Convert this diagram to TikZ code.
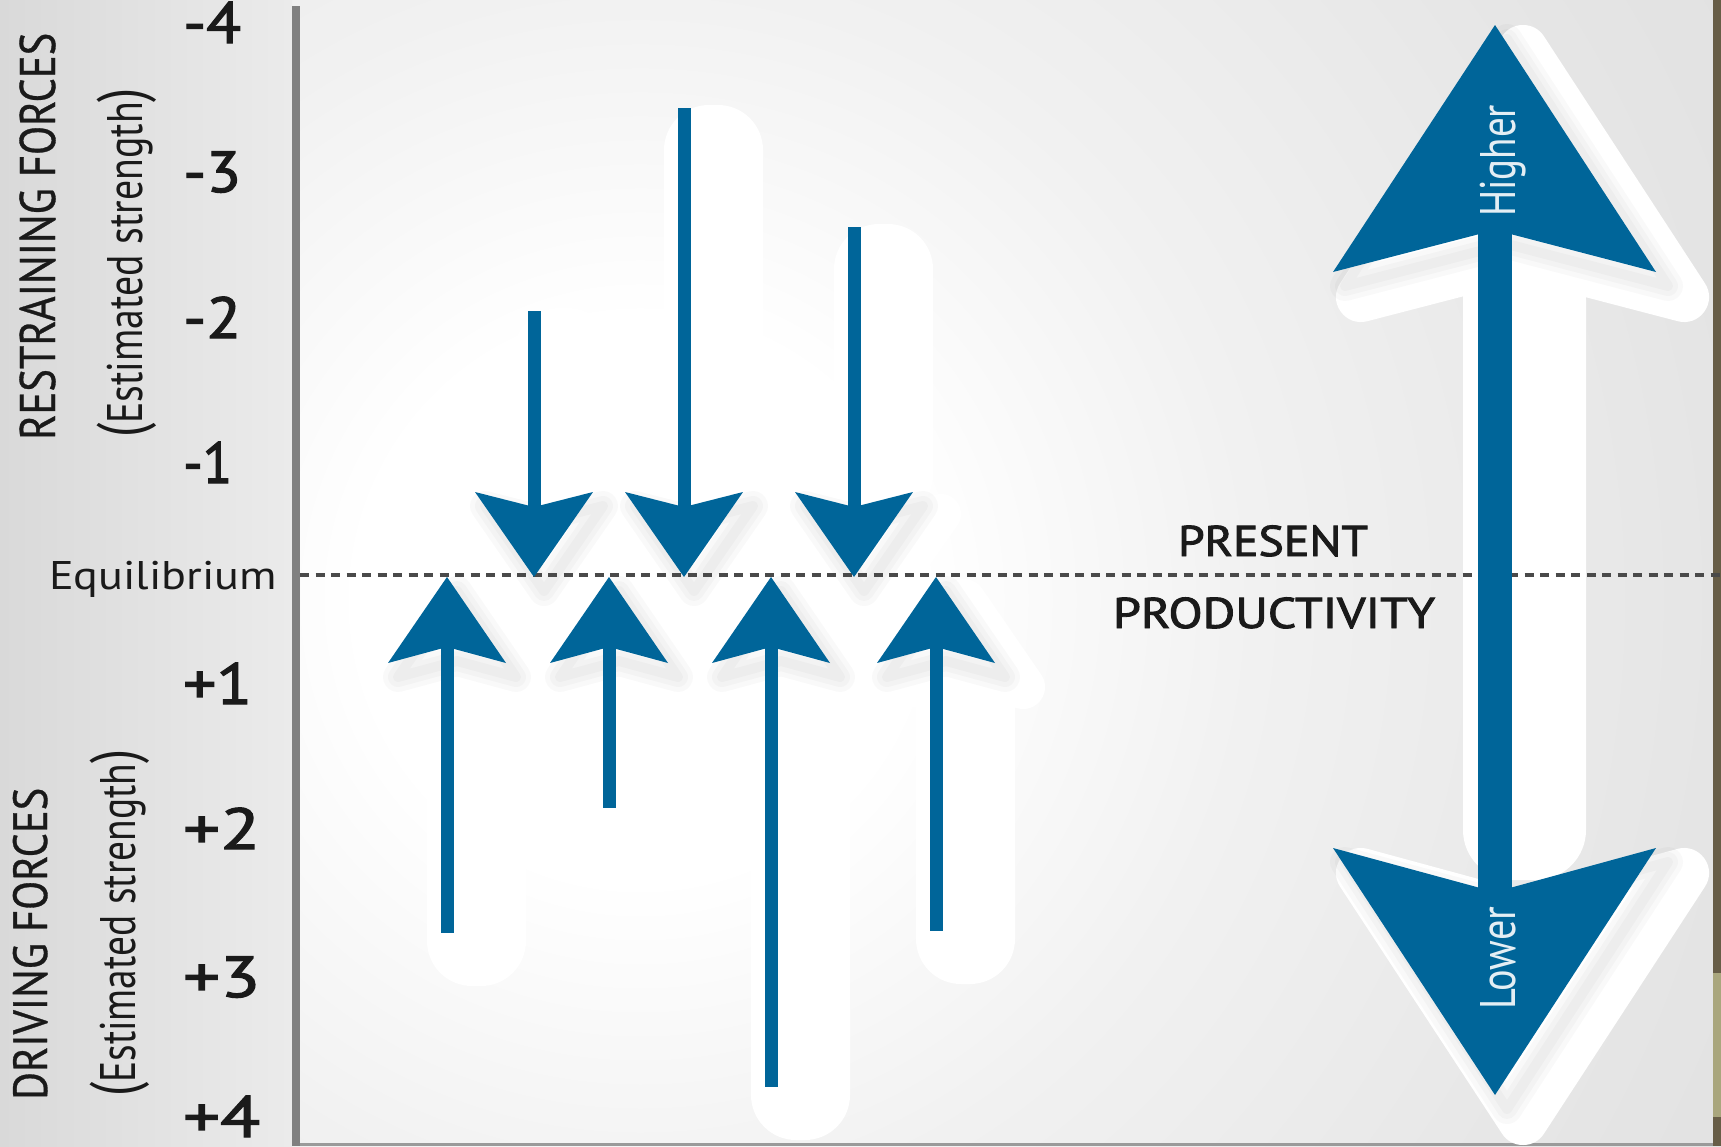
\documentclass[tikz,border=0pt]{standalone}
\usepackage{fontspec}
\setmainfont{PT Sans}
\newfontfamily\semibfont[FakeBold=2]{PT Sans}
\newfontfamily\medfont[FakeBold=0.7]{PT Sans}
\usepackage{graphicx}
\definecolor{fblue}{RGB}{0,101,153}
\definecolor{bgA}{HTML}{F1F1F1}
\definecolor{bgB}{HTML}{E4E4E4}
\definecolor{bgC}{HTML}{DADADA}
\definecolor{bgD}{HTML}{D6D6D6}
\definecolor{lpA}{HTML}{D9D9D9}
\definecolor{lpB}{HTML}{EBEBEB}
\definecolor{axisgray}{HTML}{808080}
\definecolor{dashgray}{HTML}{4A4A4A}
\definecolor{stripdark}{HTML}{675D47}
\definecolor{stripolive}{HTML}{A9A67D}
\definecolor{txtdark}{HTML}{1A1A1A}
\definecolor{hlcol}{HTML}{E4EEF4}
\pgfdeclareradialshading{bgrad}{\pgfpoint{0bp}{0bp}}{color(0bp)=(white); color(5bp)=(white); color(11bp)=(bgA); color(20bp)=(bgB); color(32bp)=(bgC); color(50bp)=(bgD)}
\newcommand\fitw[2]{\resizebox{#1}{\height}{#2}}
\tikzset{
  halo/.style={fill=white, draw=white, line join=round},
  lab/.style={inner sep=0pt, text=txtdark},
  numlab/.style={lab, anchor=base west, font=\semibfont\fontsize{58}{58}\selectfont},
  sidelab/.style={lab, rotate=90, anchor=base west},
  arrowfill/.style={fill=fblue},
  softshadow/.style={black, draw opacity=0.025, line join=round},
  eqline/.style={draw=dashgray, line width=3.5pt, dash pattern=on 9pt off 6.5pt}
}
\begin{document}
\begin{tikzpicture}[x=1pt,y=-1pt]
\useasboundingbox (0,0) rectangle (1721,1146);
\begin{scope}
\clip (0,0) rectangle (1721,1146);
% background
\fill[bgD] (0,0) rectangle (1721,1146);
\shade[shading=bgrad] (640,600) circle[radius=1400pt];
\shade[left color=lpA, right color=lpB] (0,0) rectangle (292,1146);
\fill[stripdark] (1713,0) rectangle (1721,1146);
\fill[stripolive] (1713,973) rectangle (1721,1117);
\fill[axisgray!80] (296,1143) rectangle (1713,1146);
% white halos of shafts
\foreach \x/\b in {447/933,609/808,771/1087,936/931}
  \fill[white, rounded corners=45pt] (\x-20,640) rectangle (\x+79,\b+53);
\foreach \x/\t in {534/311,684/108,854/227}
  \fill[white, rounded corners=45pt] (\x-20,\t-3) rectangle (\x+79,520);
\fill[white, rounded corners=50pt] (1463,250) rectangle (1586,880);
% white halos of heads
\foreach \x in {447,609,771,936}
  \filldraw[halo, line width=44pt, shift={(28,24)}] (\x,577) -- (\x+59,663) -- (\x,647) -- (\x-59,663) -- cycle;
\foreach \x in {534,684,854}
  \filldraw[halo, line width=40pt, shift={(28,22)}] (\x,577) -- (\x+59,492) -- (\x,507) -- (\x-59,492) -- cycle;
\filldraw[halo, line width=50pt, shift={(28,25)}] (1495,25) -- (1656,272) -- (1495,230) -- (1333,272) -- cycle;
\filldraw[halo, line width=50pt, shift={(28,25)}] (1495,1095) -- (1656,848) -- (1495,892) -- (1333,848) -- cycle;
% soft gray shadows of heads
\foreach \w in {30,20,10}{
  \foreach \x in {447,609,771,936}
    \draw[softshadow, line width=\w pt, shift={(10,14)}] (\x,577) -- (\x+59,663) -- (\x,647) -- (\x-59,663) -- cycle;
  \foreach \x in {534,684,854}
    \draw[softshadow, line width=\w pt, shift={(10,14)}] (\x,577) -- (\x+59,492) -- (\x,507) -- (\x-59,492) -- cycle;
  \draw[softshadow, line width=\w pt, shift={(12,14)}] (1495,25) -- (1656,272) -- (1495,230) -- (1333,272) -- cycle;
  \draw[softshadow, line width=\w pt, shift={(12,14)}] (1495,1095) -- (1656,848) -- (1495,892) -- (1333,848) -- cycle;
}
% equilibrium line
\coordinate (eqL) at (300,575);
\coordinate (eqR) at (1721,575);
\draw[eqline] (eqL) -- (eqR);
% axis
\fill[axisgray] (292,6) rectangle (300,1146);
% driving arrows (up)
\foreach \x/\b in {447/933,609/808,771/1087,936/931}{
  \fill[arrowfill] (\x-6.5,\b) rectangle (\x+6.5,640);
  \fill[arrowfill] (\x,577) -- (\x+59,663) -- (\x,647) -- (\x-59,663) -- cycle;
}
% restraining arrows (down)
\foreach \x/\t in {534/311,684/108,854/227}{
  \fill[arrowfill] (\x-6.5,\t) rectangle (\x+6.5,515);
  \fill[arrowfill] (\x,577) -- (\x+59,492) -- (\x,507) -- (\x-59,492) -- cycle;
}
% big double arrow
\fill[arrowfill] (1478,225) rectangle (1512,897);
\fill[arrowfill] (1495,25) -- (1656,272) -- (1495,230) -- (1333,272) -- cycle;
\fill[arrowfill] (1495,1095) -- (1656,848) -- (1495,892) -- (1333,848) -- cycle;
\end{scope}
% scale labels
\node[numlab] (nm4) at (183,43) {\fitw{58pt}{-4}};
\node[numlab] (nm3) at (183,192) {\fitw{58pt}{-3}};
\node[numlab] (nm2) at (183,338) {\fitw{58pt}{-2}};
\node[numlab] (nm1) at (183,483) {\fitw{49pt}{-1}};
\node[numlab] (np1) at (183,704) {\fitw{69pt}{+1}};
\node[numlab] (np2) at (183,849) {\fitw{77pt}{+2}};
\node[numlab] (np3) at (183,997) {\fitw{77pt}{+3}};
\node[numlab] (np4) at (183,1137) {\fitw{77pt}{+4}};
\node[lab, anchor=base west, font=\fontsize{40}{40}\selectfont] (eq) at (49,589) {\fitw{228pt}{Equilibrium}};
% side titles
\node[sidelab, font=\medfont\fontsize{50}{50}\selectfont] (rf) at (55,440) {\fitw{407pt}{RESTRAINING FORCES}};
\node[sidelab, font=\fontsize{50}{50}\selectfont] (res) at (142,438) {\fitw{350pt}{{\fontsize{64}{64}\selectfont(}Estimated strength{\fontsize{64}{64}\selectfont)}}};
\node[sidelab, font=\medfont\fontsize{48}{48}\selectfont] (df) at (47,1100) {\fitw{312pt}{DRIVING FORCES}};
\node[sidelab, font=\fontsize{50}{50}\selectfont] (des) at (135,1097) {\fitw{347pt}{{\fontsize{64}{64}\selectfont(}Estimated strength{\fontsize{64}{64}\selectfont)}}};
% present productivity
\node[lab, anchor=base, font=\semibfont\fontsize{43}{43}\selectfont] (pres) at (1273,556) {\fitw{190pt}{PRESENT}};
\node[lab, anchor=base, font=\semibfont\fontsize{43}{43}\selectfont] (prod) at (1274,628) {\fitw{322pt}{PRODUCTIVITY}};
% big arrow words
\node[sidelab, text=hlcol, font=\fontsize{50}{50}\selectfont] (hi) at (1515,217) {\fitw{112pt}{Higher}};
\node[sidelab, text=hlcol, font=\fontsize{50}{50}\selectfont] (lo) at (1515,1010) {\fitw{103pt}{Lower}};
\end{tikzpicture}
\end{document}
